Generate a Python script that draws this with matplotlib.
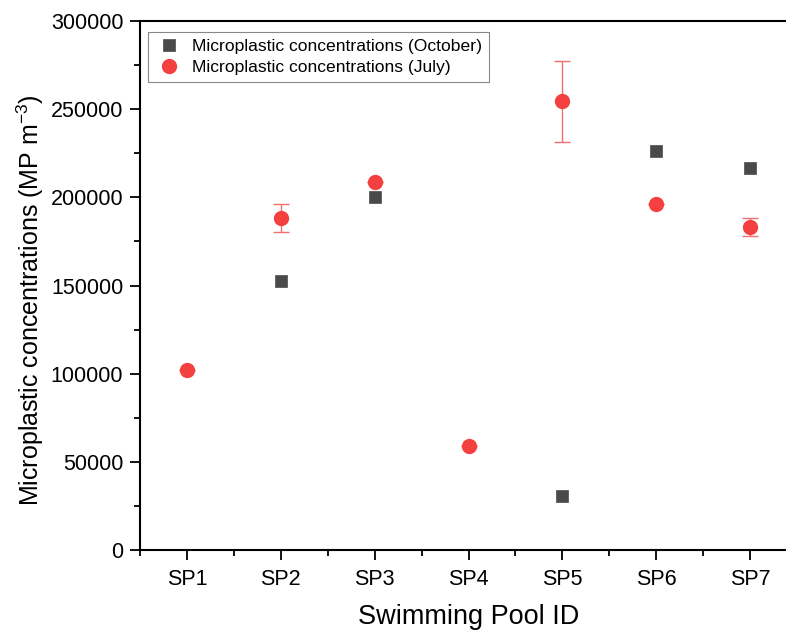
import matplotlib
matplotlib.use("Agg")
import matplotlib.pyplot as plt
from matplotlib.ticker import MultipleLocator

plt.rcParams['font.family'] = ['Liberation Sans', 'DejaVu Sans']
plt.rcParams['mathtext.fontset'] = 'custom'
plt.rcParams['mathtext.rm'] = 'Liberation Sans'
plt.rcParams['mathtext.it'] = 'Liberation Sans:italic'

categories = ["SP1", "SP2", "SP3", "SP4", "SP5", "SP6", "SP7"]
oct_idx = [1, 2, 4, 5, 6]
oct_vals = [152500, 200000, 30500, 226500, 216500]
jul_vals = [102000, 188500, 208500, 59000, 254500, 196000, 183000]
jul_err = [0, 8000, 0, 0, 23000, 0, 5000]

fig = plt.figure(figsize=(7.86, 6.34), dpi=100)
ax = fig.add_axes([140/786, 84/634, 657/786, 529/634])

ax.plot(oct_idx, oct_vals, linestyle='none', marker='s', markersize=8.5,
        color='#4a4a4a', markeredgecolor='#5a5a5a', markeredgewidth=0.6,
        label='Microplastic concentrations (October)', zorder=3)
ax.errorbar(range(len(categories)), jul_vals, yerr=jul_err, fmt='none',
            ecolor='#f07070', elinewidth=1.0, capsize=6, capthick=1.0, zorder=3)
ax.plot(range(len(categories)), jul_vals, linestyle='none',
        marker='o', markersize=10, color='#f54040', markeredgecolor='#f54040',
        label='Microplastic concentrations (July)', zorder=4)

ax.set_xlim(-0.5, 6.5)
ax.set_ylim(0, 300000)
ax.set_xticks(range(len(categories)))
ax.set_xticklabels(categories)
ax.xaxis.set_minor_locator(MultipleLocator(0.5))
ax.yaxis.set_major_locator(MultipleLocator(50000))
ax.yaxis.set_minor_locator(MultipleLocator(25000))

for s in ['left', 'bottom', 'top']:
    ax.spines[s].set_linewidth(1.5)
ax.spines['right'].set_visible(False)
ax.tick_params(which='major', direction='out', length=7, width=1.3, labelsize=15.5,
               top=False, right=False)
ax.tick_params(axis='y', which='major', pad=5)
ax.tick_params(axis='x', which='major', pad=7)
ax.tick_params(which='minor', direction='out', length=4, width=1.3, top=False, right=False)

ax.set_xlabel('Swimming Pool ID', fontsize=19.5, labelpad=10)
ax.set_ylabel('Microplastic concentrations (MP m$^{-3}$)', fontsize=18)
ax.yaxis.set_label_coords(-0.143, 0.472)

leg = ax.legend(loc='upper left', bbox_to_anchor=(0.0115, 0.98), fontsize=12.6,
                frameon=True, fancybox=False, edgecolor='#888888', framealpha=1,
                borderpad=0.4, handletextpad=0.55, labelspacing=0.33, handlelength=1.6,
                borderaxespad=0)
leg.get_frame().set_linewidth(0.8)

fig.savefig('out.png', dpi=100)
